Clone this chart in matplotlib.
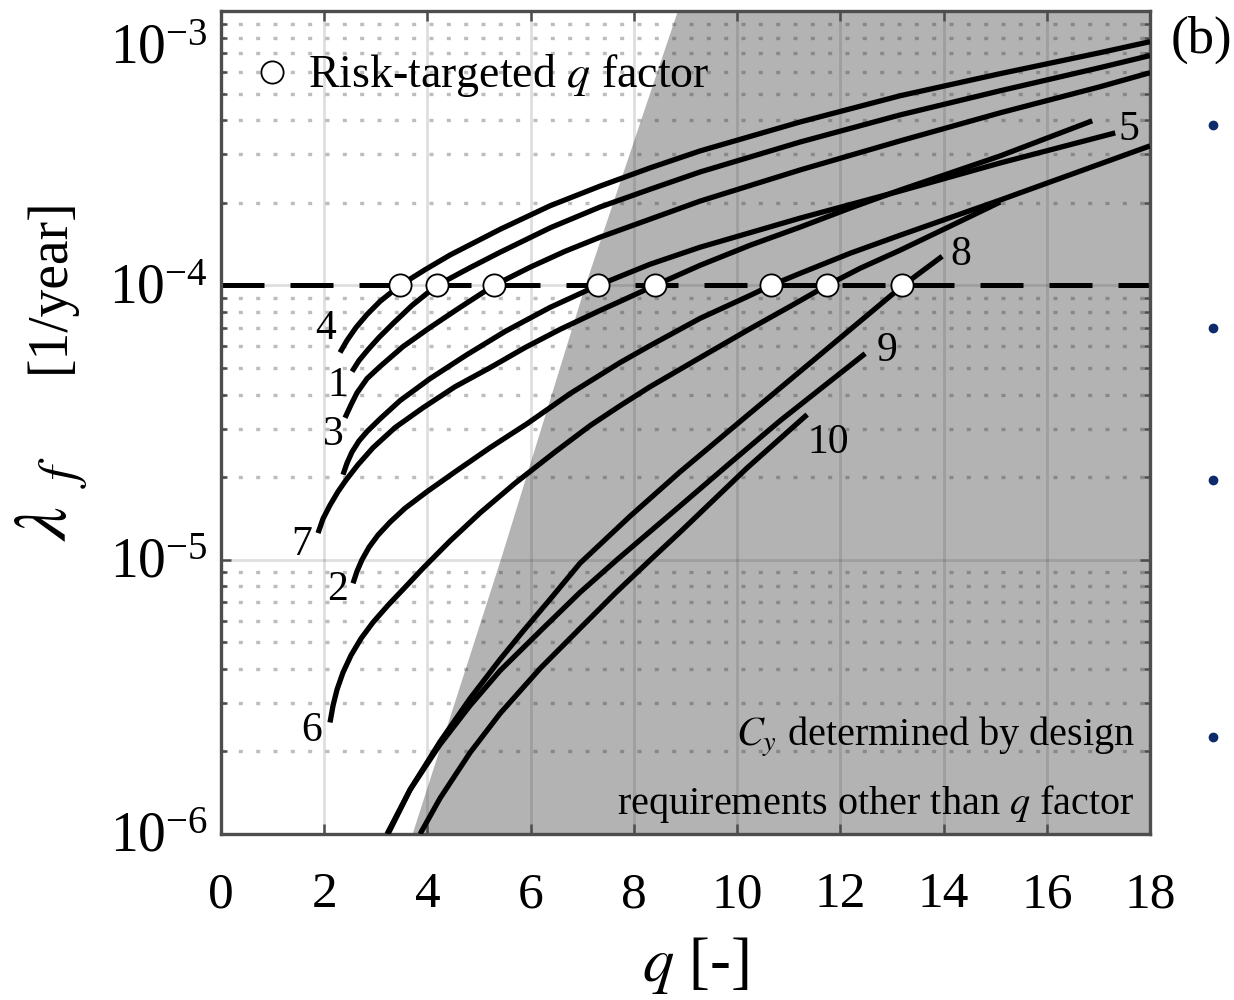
import matplotlib.pyplot as plt
import matplotlib.transforms as mtransforms
from matplotlib.lines import Line2D

plt.rcParams['font.family'] = 'Liberation Serif'
plt.rcParams['mathtext.fontset'] = 'stix'

# annual failure rate lambda_f against behaviour factor q, one curve per building
q_c4 = [2.306, 2.442, 2.616, 2.829, 3.081, 3.469, 3.953, 4.438, 5.407, 6.376, 7.345, 8.314,
        9.283, 11.221, 13.159, 15.097, 17.035, 18.0]
lf_c4 = [5.69e-5, 6.30e-5, 7.02e-5, 7.83e-5, 8.74e-5, 1.0e-4, 1.14e-4, 1.29e-4, 1.60e-4, 1.95e-4,
         2.30e-4, 2.68e-4, 3.09e-4, 3.94e-4, 4.91e-4, 5.91e-4, 7.05e-4, 7.73e-4]

q_c1 = [2.539, 2.674, 2.849, 3.062, 3.333, 3.702, 4.186, 4.826, 5.407, 6.376, 7.345, 8.314,
        9.283, 11.221, 13.159, 15.097, 17.035, 18.0]
lf_c1 = [4.85e-5, 5.32e-5, 5.83e-5, 6.46e-5, 7.26e-5, 8.45e-5, 1.0e-4, 1.16e-4, 1.32e-4, 1.62e-4,
         1.93e-4, 2.24e-4, 2.59e-4, 3.33e-4, 4.18e-4, 5.12e-4, 6.22e-4, 6.88e-4]

q_c3 = [2.403, 2.519, 2.636, 2.829, 3.081, 3.527, 4.050, 4.632, 5.291, 5.988, 6.667, 7.345,
        8.314, 9.283, 11.221, 13.159, 15.097, 17.035, 18.0]
lf_c3 = [3.29e-5, 3.67e-5, 4.06e-5, 4.57e-5, 5.06e-5, 5.98e-5, 7.02e-5, 8.31e-5, 1.0e-4, 1.164e-4,
         1.331e-4, 1.498e-4, 1.743e-4, 2.028e-4, 2.634e-4, 3.362e-4, 4.255e-4, 5.297e-4, 5.958e-4]

q_c5 = [2.364, 2.442, 2.539, 2.674, 2.829, 3.081, 3.469, 4.050, 4.767, 5.504, 6.376, 7.306,
        8.314, 9.283, 11.221, 13.159, 15.097, 17.326]
lf_c5 = [2.04e-5, 2.25e-5, 2.47e-5, 2.71e-5, 2.93e-5, 3.26e-5, 3.80e-5, 4.57e-5, 5.59e-5, 6.79e-5,
         8.31e-5, 1.0e-4, 1.194e-4, 1.377e-4, 1.758e-4, 2.207e-4, 2.793e-4, 3.595e-4]

q_c7 = [1.880, 1.977, 2.112, 2.267, 2.422, 2.655, 2.946, 3.372, 3.915, 4.535, 5.213, 5.891,
        6.570, 7.345, 7.733, 8.411, 9.283, 10.252, 11.221, 12.190, 13.159, 15.097, 16.880]
lf_c7 = [1.25e-5, 1.41e-5, 1.58e-5, 1.77e-5, 1.95e-5, 2.22e-5, 2.56e-5, 3.03e-5, 3.58e-5, 4.27e-5,
         5.01e-5, 5.93e-5, 6.91e-5, 8.10e-5, 8.74e-5, 1.0e-4, 1.183e-4, 1.400e-4, 1.630e-4,
         1.912e-4, 2.225e-4, 2.963e-4, 3.978e-4]

q_c2 = [2.558, 2.636, 2.733, 2.868, 3.043, 3.275, 3.566, 3.992, 4.535, 5.213, 5.930, 6.764,
        7.733, 8.314, 9.283, 10.252, 10.659, 11.221, 12.190, 13.159, 15.097, 18.0]
lf_c2 = [8.20e-6, 9.08e-6, 1.00e-5, 1.11e-5, 1.23e-5, 1.37e-5, 1.54e-5, 1.77e-5, 2.09e-5, 2.56e-5,
         3.13e-5, 4.03e-5, 5.23e-5, 6.03e-5, 7.58e-5, 9.19e-5, 1.0e-4, 1.106e-4, 1.309e-4,
         1.523e-4, 2.046e-4, 3.223e-4]

q_c6 = [2.112, 2.171, 2.248, 2.364, 2.519, 2.713, 2.946, 3.236, 3.566, 3.915, 4.438, 5.019,
        5.698, 6.473, 7.151, 7.733, 8.314, 9.283, 10.194, 11.027, 11.744, 12.384, 13.159,
        14.128, 15.097]
lf_c6 = [2.55e-6, 2.94e-6, 3.36e-6, 3.88e-6, 4.48e-6, 5.16e-6, 5.91e-6, 6.82e-6, 7.93e-6, 9.31e-6,
         1.17e-5, 1.48e-5, 1.90e-5, 2.47e-5, 3.08e-5, 3.64e-5, 4.27e-5, 5.45e-5, 6.85e-5,
         8.38e-5, 1.0e-4, 1.154e-4, 1.343e-4, 1.643e-4, 2.012e-4]

q_c8 = [3.217, 3.663, 4.244, 4.826, 5.407, 5.833, 6.376, 6.957, 7.926, 8.895, 10.194, 11.473,
        13.217, 13.973]
lf_c8 = [1.0e-6, 1.45e-6, 2.17e-6, 3.12e-6, 4.33e-6, 5.43e-6, 7.17e-6, 9.71e-6, 1.44e-5, 2.09e-5,
         3.35e-5, 5.32e-5, 1.0e-4, 1.276e-4]

q_c9 = [3.236, 3.663, 4.244, 4.826, 5.407, 6.240, 6.957, 7.674, 8.895, 9.864, 10.833, 12.481]
lf_c9 = [1.0e-6, 1.45e-6, 2.12e-6, 2.94e-6, 3.94e-6, 5.62e-6, 7.60e-6, 1.00e-5, 1.57e-5, 2.25e-5,
         3.21e-5, 5.64e-5]

q_c10 = [3.857, 4.244, 4.826, 5.407, 6.182, 6.957, 7.636, 8.314, 8.895, 10.194, 11.357]
lf_c10 = [1.0e-6, 1.35e-6, 1.98e-6, 2.75e-6, 4.01e-6, 5.62e-6, 7.54e-6, 9.96e-6, 1.26e-5, 2.16e-5,
          3.38e-5]

# risk-targeted q factors (crossing of the 1e-4 target)
q_target = [3.47, 4.18, 5.29, 7.31, 8.41, 10.66, 11.74, 13.20]
lf_target = 1e-4

# left edge of the region where Cy is set by other requirements
q_edge = [3.70, 5.41, 7.05, 8.84]
lf_edge = [1e-6, 1e-5, 1e-4, 1e-3]

ytick_vals = [1e-6, 1e-5, 1e-4, 1e-3]
ytick_text = [r'$\mathregular{10^{-6}}$', r'$\mathregular{10^{-5}}$',
              r'$\mathregular{10^{-4}}$', r'$\mathregular{10^{-3}}$']

# (name, q, lambda, which end gets the number, label offset in px: right, down)
curves = [
    ('4', q_c4, lf_c4, 0, (-14, -24)),
    ('1', q_c1, lf_c1, 0, (-14, 14)),
    ('3', q_c3, lf_c3, 0, (-12, 17)),
    ('5', q_c5, lf_c5, -1, (14, -3)),
    ('7', q_c7, lf_c7, 0, (-16, 12)),
    ('2', q_c2, lf_c2, 0, (-16, 6)),
    ('6', q_c6, lf_c6, 0, (-18, 8)),
    ('8', q_c8, lf_c8, -1, (19, -2)),
    ('9', q_c9, lf_c9, -1, (22, -3)),
    ('10', q_c10, lf_c10, -1, (21, 28)),
]

fig = plt.figure(figsize=(12.34, 10), dpi=100)
ax = fig.add_axes([221/1234, 1-834/1000, 929/1234, 823/1000])
ax.set_yscale('log')
ax.set_xlim(0, 18)
ax.set_ylim(1e-6, 1e-3)

ax.fill_betweenx(lf_edge, q_edge, 18, color='#b3b3b3', lw=0, zorder=1)

ax.set_axisbelow('line')
ax.grid(which='major', color='#262626', alpha=0.15, lw=2.0, ls='-')
ax.grid(which='minor', axis='y', color='#262626', alpha=0.3, lw=2.4, ls=(0, (1.2, 4.0)))
ax.grid(which='minor', axis='x', visible=False)

ax.axhline(lf_target, color='black', lw=3.6, ls=(0, (8.6, 5.2)), zorder=2)

for name, q, lf, end, off in curves:
    ax.plot(q, lf, color='black', lw=3.8, solid_capstyle='butt', zorder=3)
    ax.annotate(name, (q[end], lf[end]), xytext=(off[0]*0.72, -off[1]*0.72),
                textcoords='offset points', ha='center', va='center', fontsize=30)

ax.plot(q_target, [lf_target]*len(q_target), 'o', ms=16, mfc='white', mec='black',
        mew=1.3, zorder=4)

# legend entry drawn by hand
ax.plot([0.055], [0.926], 'o', ms=16, mfc='white', mec='black', mew=1.3,
        transform=ax.transAxes, clip_on=False, zorder=4)
ax.text(0.0936, 0.9077, 'Risk-targeted $q$ factor', transform=ax.transAxes,
        ha='left', va='baseline', fontsize=33)

ax.text(0.984, 0.108, '$C_y$ determined by design', transform=ax.transAxes,
        ha='right', va='baseline', fontsize=29)
ax.text(0.984, 0.024, 'requirements other than $q$ factor', transform=ax.transAxes,
        ha='right', va='baseline', fontsize=29)

ax.set_xticks(range(0, 19, 2))
ax.set_yticks(ytick_vals)
ax.tick_params(which='both', direction='in', top=True, right=True, colors='#4d4d4d',
               labelcolor='black', width=1.8)
ax.tick_params(which='major', length=7.5)
ax.tick_params(which='minor', length=4.5)
ax.tick_params(axis='x', labelsize=37, pad=27)
ax.tick_params(axis='y', labelleft=False)
for s in ax.spines.values():
    s.set_color('#4d4d4d')
    s.set_linewidth(2.4)

# y tick labels: "10" sits on the tick, the top one hangs below the axes top
ylab_tf = mtransforms.blended_transform_factory(ax.transAxes, ax.transData)
for val, txt in zip(ytick_vals, ytick_text):
    drop = 53 if val == ytick_vals[-1] else 18
    off = mtransforms.ScaledTranslation(0, -drop/100, fig.dpi_scale_trans)
    ax.text(-0.014, val, txt, transform=ylab_tf + off, ha='right', va='baseline',
            fontsize=40, clip_on=False)

fig.text(695/1234, 1-965/1000, '$q$ [-]', ha='center', va='center', fontsize=45)
fig.text(50/1234, 1-285/1000, '[1/year]', ha='center', va='center', rotation=90,
         fontsize=40)
fig.text(48/1234, 1-523/1000, r'$\lambda$', ha='center', va='center', rotation=90,
         fontsize=54)
fig.text(63/1234, 1-472/1000, r'$f$', ha='center', va='center', rotation=90,
         fontsize=38)
fig.text(1201/1234, 1-40/1000, '(b)', ha='center', va='center', fontsize=38)

# bullet marks at the right edge of the slide
bullet_y = [125, 328, 480, 737]
fig.add_artist(Line2D([1213/1234]*len(bullet_y), [1 - b/1000 for b in bullet_y],
                      ls='none', marker='o', ms=6, color='#0d2b6b',
                      transform=fig.transFigure))

fig.savefig('out.png', dpi=100)
